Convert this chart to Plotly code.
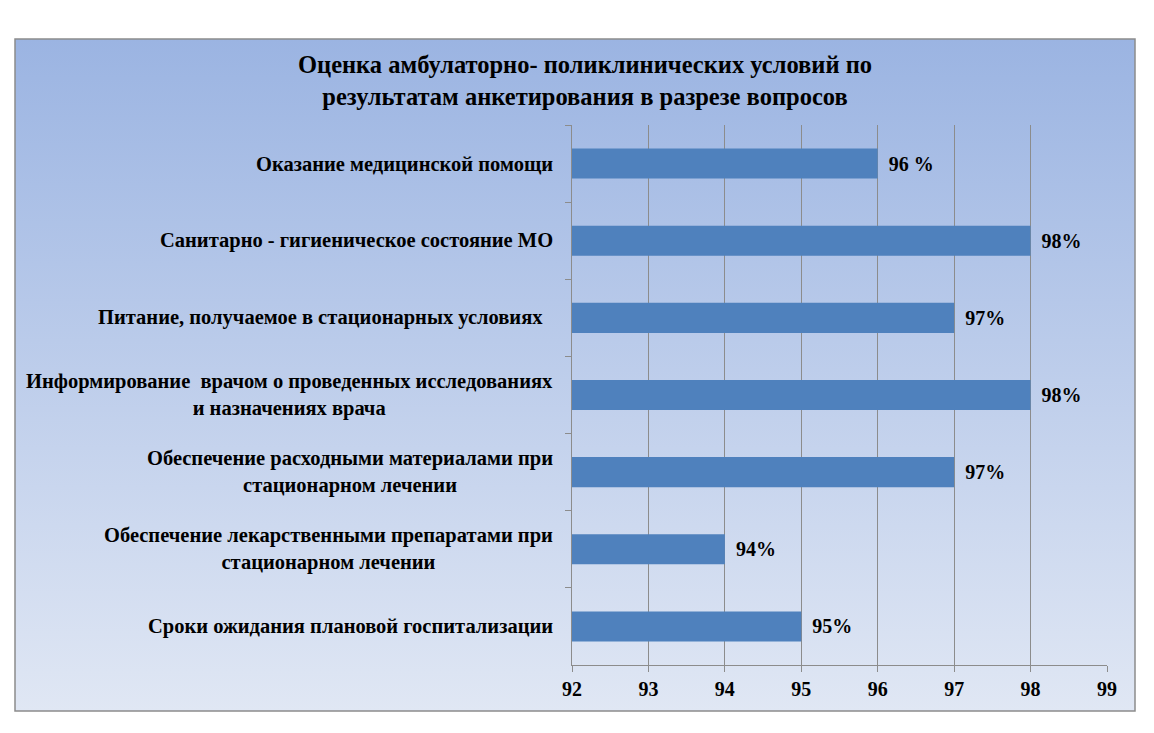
import base64
import plotly.graph_objects as go

# данные с графика
categories = [
    "Оказание медицинской помощи",
    "Санитарно - гигиеническое состояние МО",
    "Питание, получаемое в стационарных условиях  ",
    "Информирование  врачом о проведенных исследованиях<br>и назначениях врача",
    "Обеспечение расходными материалами при<br>стационарном лечении",
    "Обеспечение лекарственными препаратами при<br>стационарном лечении",
    "Сроки ожидания плановой госпитализации",
]
values = [96, 98, 97, 98, 97, 94, 95]
value_labels = ["96 %", "98%", "97%", "98%", "97%", "94%", "95%"]
x_ticks = [92, 93, 94, 95, 96, 97, 98, 99]

title_text = ("Оценка амбулаторно- поликлинических условий по<br>"
              "результатам анкетирования в разрезе вопросов")

FONT = "Liberation Serif, Times New Roman, serif"

# область построения (в пикселях фигуры)
PL, PR, PT, PB = 564, 1099, 117, 657
W, H = 1154, 733
pw, ph = PR - PL, PB - PT

def px(x):
    return (x - PL) / pw

def py(y):
    return (PB - y) / ph

# градиентный фон через svg
svg = ('<svg xmlns="http://www.w3.org/2000/svg" width="100" height="100" preserveAspectRatio="none">'
       '<defs><linearGradient id="g" x1="0" y1="0" x2="0" y2="1">'
       '<stop offset="0" stop-color="#9BB4E2"/><stop offset="1" stop-color="#E0E7F4"/>'
       '</linearGradient></defs><rect width="100" height="100" fill="url(#g)"/></svg>')
svg_uri = "data:image/svg+xml;base64," + base64.b64encode(svg.encode()).decode()

bars = go.Bar(
    x=values,
    y=categories,
    orientation="h",
    marker=dict(color="#4F81BD", line=dict(width=0)),
    width=0.39,
    text=value_labels,
    texttemplate="\u2009\u2009%{text}",
    textposition="outside",
    textfont=dict(family=FONT, size=20, color="black", weight="bold"),
    cliponaxis=False,
    showlegend=False,
)

fig = go.Figure(data=[bars])

# подписи категорий (центрированные строки, как в Excel)
for cat in categories:
    fig.add_annotation(
        x=px(PL - 17), xref="paper", y=cat, yref="y",
        text=cat, showarrow=False,
        xanchor="right", yanchor="middle", align="center",
        font=dict(family=FONT, size=20.5, color="black", weight="bold"),
    )

fig.update_layout(
    width=W, height=H,
    margin=dict(l=PL, r=W - PR, t=PT, b=H - PB),
    paper_bgcolor="white",
    plot_bgcolor="rgba(0,0,0,0)",
    title=dict(text=title_text, x=0.5, xref="container", xanchor="center",
               y=1 - 65 / H, yref="container", yanchor="middle",
               font=dict(family=FONT, size=24.5, color="black", weight="bold")),
    font=dict(family=FONT, color="black"),
    bargap=0.6,
    images=[dict(source=svg_uri, xref="paper", yref="paper",
                 x=px(7), y=py(31),
                 sizex=1120 / pw, sizey=672 / ph,
                 sizing="stretch", layer="below", xanchor="left", yanchor="top")],
    shapes=[dict(type="rect", xref="paper", yref="paper",
                 x0=px(7), x1=px(1127), y0=py(703), y1=py(31),
                 line=dict(color="#8C8C8C", width=1.5), fillcolor="rgba(0,0,0,0)", layer="below")],
)

fig.update_xaxes(
    range=[92, 99], tickvals=x_ticks, showgrid=True, gridcolor="#8C8C8C", gridwidth=1,
    showline=True, linecolor="#8C8C8C", ticks="outside", ticklen=6, tickcolor="#8C8C8C",
    tickfont=dict(family=FONT, size=20, color="black", weight="bold"),
    zeroline=False,
)
fig.update_yaxes(
    autorange="reversed", showticklabels=False, showgrid=False,
    showline=True, linecolor="#8C8C8C", ticks="outside", ticklen=6, tickcolor="#8C8C8C",
    tickson="boundaries",
)

fig.write_html("out.html")
